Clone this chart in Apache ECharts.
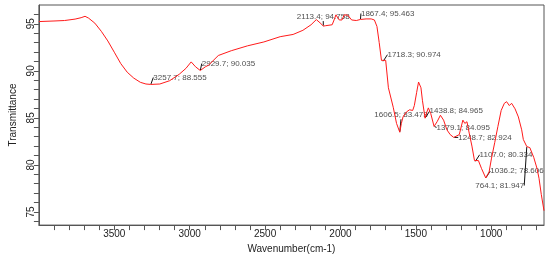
<!DOCTYPE html>
<html>
<head>
<meta charset="utf-8">
<script src="https://cdn.jsdelivr.net/npm/echarts@6/dist/echarts.min.js"></script>
<style>
html,body{margin:0;padding:0;background:#fff;}
#chart{width:548px;height:259px;}
</style>
</head>
<body>
<div id="chart"></div>
<script>
// Spectrum: wavenumber (cm-1) and transmittance
const wavenumbers = [4000,3900,3830,3760,3720,3694,3670,3629,3586,3543,3500,3457,3414,3371,3327,3290,3257.7,3198,3133,3069,3025,2990,2961,2929.7,2896,2875,2810,2724,2616,2508,2400,2314,2249,2195,2160,2150,2135,2113.4,2098,2055,2040,2030,2020,2008,1990,1975,1965,1952,1926,1895,1867.4,1830,1796,1775,1758,1743,1728,1718.3,1700,1682,1650,1628,1606.5,1596,1585,1563,1542,1521,1510,1495,1482,1466,1456,1438.8,1427,1417,1401,1379.1,1359,1337,1316,1294,1272,1248.7,1212,1188,1175,1161,1146,1128,1111,1107,1085,1064,1036.2,1014,999,977,956,934,913,898,880,865,842,820,798,787,764.1,744,718,696,683,668,650];
const transmittance = [95.24,95.3,95.35,95.5,95.65,95.8,95.6,95.07,94.2,93.18,91.98,90.77,89.85,89.23,88.78,88.6,88.555,88.6,88.95,89.64,90.26,90.95,90.43,90.035,90.43,90.6,91.63,92.14,92.66,93.07,93.63,93.87,94.31,94.9,95.45,95.6,95.1,94.758,94.8,94.9,95.5,95.95,95.8,95.41,95.41,95.95,96.1,95.93,95.41,95.35,95.463,95.52,95.52,95.41,94.72,93.01,91.11,90.974,91.12,88.2,86.13,84.41,83.473,84.41,85.1,85.62,85.86,85.79,86.31,87.68,88.81,88.2,86.82,84.965,85.62,86.06,85.45,84.095,84.59,85.28,84.76,83.73,83.22,82.924,83.22,84.76,84.41,84.59,83.38,82.0,80.46,80.334,80.46,79.6,78.606,79.26,80.64,82.36,84.07,85.79,86.55,86.72,86.31,86.55,85.96,85.1,83.73,82.7,81.947,81.84,80.8,79.6,78.57,76.86,75.13];

// Peak annotations
const peakW = [3257.7,2929.7,2113.4,1867.4,1718.3,1606.5,1438.8,1379.1,1248.7,1107.0,1036.2,764.1];
const peakT = [88.555,90.035,94.758,95.463,90.974,83.473,84.965,84.095,82.924,80.334,78.606,81.947];

// Axis ticks and labels
const xTicks = []; for (let v = 700; v <= 3900; v += 100) xTicks.push(v);
const xLabels = [1000,1500,2000,2500,3000,3500];
const yTicks = []; for (let v = 74; v <= 96; v += 1) yTicks.push(v);
const yLabels = [75,80,85,90,95];

// label offsets (layout only)
const labelOffsets = [[2,-7],[1,-7],[-27,-9],[0,-6],[4,-7],[-26,-17],[4,-7],[2,1],[4,0],[4,-7],[4,-7],[-52,39]];

const chart = echarts.init(document.getElementById('chart'), null, {renderer:'canvas'});
const axisColor = '#555';
const font = 'Liberation Sans, Arial, sans-serif';
chart.setOption({
  animation:false,
  backgroundColor:'#fff',
  grid:{left:26,right:4,top:5,bottom:27,show:true,borderColor:axisColor,borderWidth:1,containLabel:false},
  xAxis:{
    type:'value', inverse:true, min:650, max:4000,
    name:'Wavenumber(cm-1)', nameLocation:'middle', nameGap:17,
    nameTextStyle:{fontFamily:font,fontSize:10,color:'#222'},
    axisLine:{lineStyle:{color:axisColor}},
    axisTick:{show:true,length:5,inside:false,customValues:xTicks,lineStyle:{color:axisColor}},
    axisLabel:{customValues:xLabels,formatter:v=>String(v),fontFamily:font,fontSize:10,color:'#222',margin:4},
    splitLine:{show:false}
  },
  yAxis:{
    type:'value', min:73.6, max:97,
    name:'Transmittance', nameLocation:'middle', nameGap:12, nameRotate:90,
    nameTextStyle:{fontFamily:font,fontSize:10,color:'#222'},
    axisLine:{show:true,lineStyle:{color:axisColor}},
    axisTick:{show:true,length:5,customValues:yTicks,lineStyle:{color:axisColor}},
    axisLabel:{customValues:yLabels,formatter:v=>String(v),rotate:90,fontFamily:font,fontSize:10,color:'#222',margin:3},
    splitLine:{show:false}
  },
  series:[
    {
      type:'line', data:wavenumbers.map((w,i)=>[w,transmittance[i]]),
      showSymbol:false, symbol:'none', smooth:false,
      lineStyle:{color:'#ff1a1a',width:1}, silent:true
    },
    {
      type:'scatter', data:peakW.map((w,i)=>[w,peakT[i]]),
      symbolSize:1, itemStyle:{color:'rgba(0,0,0,0)'},
      label:{show:true,position:'right',distance:0,fontFamily:font,fontSize:8,color:'#222',
        formatter:p=>peakW[p.dataIndex].toFixed(1)+'; '+peakT[p.dataIndex].toFixed(3)},
      labelLine:{show:true,lineStyle:{color:'#111',width:1}},
      labelLayout:function(p){const o=labelOffsets[p.dataIndex];return {dx:o[0],dy:o[1]};}
    }
  ]
});
</script>
</body>
</html>
